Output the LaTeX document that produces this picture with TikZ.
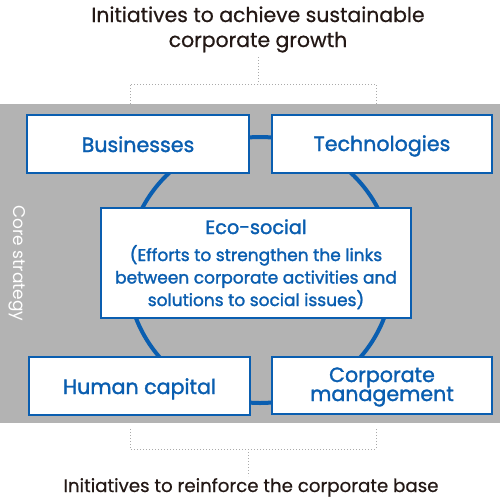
\documentclass[tikz,border=0pt]{standalone}
\usepackage{fontspec}
\setmainfont{Poppins}
\newfontfamily\medfont{Poppins}[FakeBold=1.6]
\newfontfamily\capfont{Poppins}[FakeBold=0.6]
\definecolor{bandgray}{RGB}{179,179,179}
\definecolor{dblue}{RGB}{10,94,176}
\definecolor{dotgray}{RGB}{170,170,170}
\definecolor{txt}{RGB}{35,24,21}
\begin{document}
\begin{tikzpicture}[x=1pt,y=-1pt,
  box/.style={draw=dblue,line width=1.2pt,fill=white,inner sep=0pt},
  lbl/.style={text=dblue,anchor=base,inner sep=0pt,font=\medfont\fontsize{20.6}{20}\selectfont},
  eco/.style={text=dblue,anchor=base,inner sep=0pt,font=\medfont\fontsize{17}{20}\selectfont},
  dots/.style={draw=dotgray,line width=1pt,dotted},
  captext/.style={text=txt,anchor=base,inner sep=0pt,font=\capfont\fontsize{20.4}{27}\selectfont}]
\useasboundingbox (0,0) rectangle (500,498);
\fill[bandgray] (0,104) rectangle (500,423);
% dotted brackets
\coordinate (t1) at (258,57);
\coordinate (t2) at (258,84);
\coordinate (tl) at (130,84);
\coordinate (tr) at (376,84);
\coordinate (tl2) at (130,104);
\coordinate (tr2) at (376,104);
\draw[dots] (t1) -- (t2);
\draw[dots] (tl2) -- (tl) -- (tr) -- (tr2);
\coordinate (bl) at (130,429);
\coordinate (br) at (376,429);
\coordinate (bl2) at (130,449);
\coordinate (br2) at (376,449);
\coordinate (b1) at (248,449);
\coordinate (b2) at (248,476);
\draw[dots] (bl) -- (bl2) -- (br2) -- (br);
\draw[dots] (b1) -- (b2);
% circle
\coordinate (cc) at (260,270);
\draw[dblue,line width=4pt] (cc) circle [radius=133];
% boxes
\node[box,minimum width=222,minimum height=58] (bus) at (138,144) {};
\node[lbl] (busl) at (138,152) {Businesses};
\node[box,minimum width=220,minimum height=58] (tech) at (382,144) {};
\node[lbl] (techl) at (382,151) {Technologies};
\node[box,minimum width=310,minimum height=110] (eco) at (256,263) {};
\node[eco,font=\medfont\fontsize{19.3}{20}\selectfont] (eco1) at (256,234) {Eco-social};
\node[eco] (eco2) at (256,261) {(Efforts to strengthen the links};
\node[eco] (eco3) at (256,283.5) {between corporate activities and};
\node[eco] (eco4) at (256,306) {solutions to social issues)};
\node[box,minimum width=221,minimum height=58] (hum) at (139.5,386) {};
\node[lbl] (huml) at (139.5,394) {Human capital};
\node[box,minimum width=220,minimum height=57] (corp) at (382,385.5) {};
\node[lbl] (corp1) at (382,382) {Corporate};
\node[lbl] (corp2) at (382,401) {management};
% core strategy
\node[text=white,rotate=-90,font=\fontsize{17}{16}\selectfont] (core) at (17,263.5) {Core strategy};
% captions
\node[captext] (top1) at (258,22) {Initiatives to achieve sustainable};
\node[captext] (top2) at (258,47) {corporate growth};
\node[captext,font=\capfont\fontsize{18.2}{20}\selectfont] (bot) at (251,492) {Initiatives to reinforce the corporate base};
\end{tikzpicture}
\end{document}
